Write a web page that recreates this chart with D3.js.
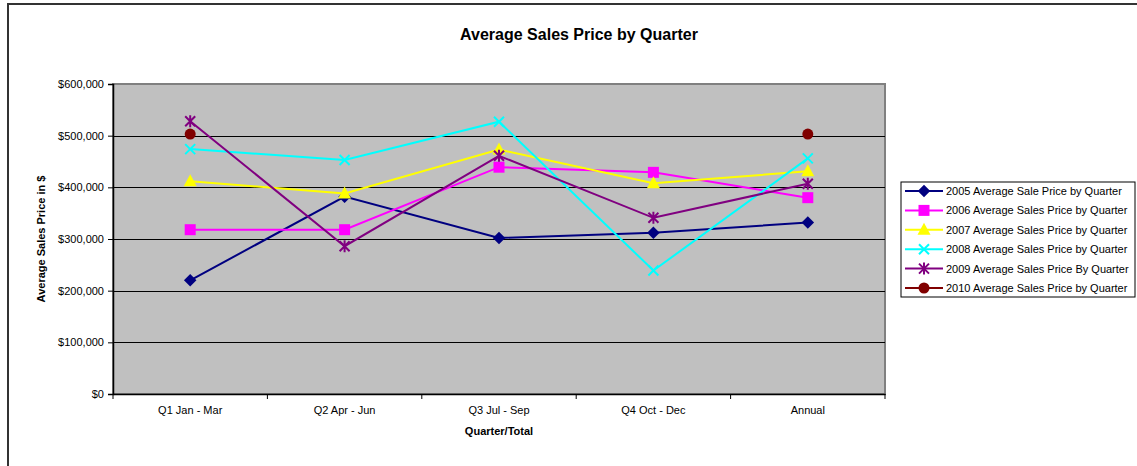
<!DOCTYPE html>
<html>
<head>
<meta charset="utf-8">
<script src="https://cdn.jsdelivr.net/npm/d3@7/dist/d3.min.js"></script>
<style>
  body { margin: 0; background: #fff; }
  svg { display: block; font-family: Arial, "Liberation Sans", sans-serif; }
</style>
</head>
<body>
<div id="chart"></div>
<script>
const categories = ['Q1 Jan - Mar', 'Q2 Apr - Jun', 'Q3 Jul - Sep', 'Q4 Oct - Dec', 'Annual'];
const yTicks = [0, 100000, 200000, 300000, 400000, 500000, 600000];

const sales2005 = [220000, 382000, 302000, 312000, 332000];
const sales2006 = [318000, 318000, 439000, 429000, 380000];
const sales2007 = [412000, 388000, 473000, 408000, 431000];
const sales2008 = [474000, 453000, 527000, 239000, 456000];
const sales2009 = [528000, 286000, 461000, 341000, 407000];
const sales2010 = [503000, null, null, null, 503000];

const seriesNames = [
  '2005 Average Sale Price by Quarter',
  '2006 Average Sales Price by Quarter',
  '2007 Average Sales Price by Quarter',
  '2008 Average Sales Price by Quarter',
  '2009 Average Sales Price By Quarter',
  '2010 Average Sales Price by Quarter'
];
const seriesColors = ['#000080', '#ff00ff', '#ffff00', '#00ffff', '#800080', '#800000'];
const seriesMarkers = ['diamond', 'square', 'triangle', 'x', 'star', 'circle'];
const seriesValues = [sales2005, sales2006, sales2007, sales2008, sales2009, sales2010];

const config = {
  totalWidth: 1137,
  totalHeight: 466,
  plot: {left: 113, right: 885, top: 84, bottom: 394},
  legend: {x: 901, y: 182, width: 234, height: 115, rowHeight: 19.4}
};

const series = seriesNames.map((name, i) => ({
  name,
  color: seriesColors[i],
  marker: seriesMarkers[i],
  values: seriesValues[i].map((v, j) => ({cat: categories[j], value: v}))
}));

const svg = d3.select('#chart').append('svg')
  .attr('width', config.totalWidth)
  .attr('height', config.totalHeight);

// chart frame (only left and top visible in the picture)
svg.append('path')
  .attr('d', `M8,${config.totalHeight} V4 H${config.totalWidth}`)
  .attr('fill', 'none')
  .attr('stroke', '#333')
  .attr('stroke-width', 2);

const xScale = d3.scaleBand()
  .domain(categories)
  .range([config.plot.left, config.plot.right]);

const yScale = d3.scaleLinear()
  .domain([0, 600000])
  .range([config.plot.bottom, config.plot.top]);

// plot area
svg.append('rect')
  .attr('x', config.plot.left)
  .attr('y', config.plot.top)
  .attr('width', config.plot.right - config.plot.left)
  .attr('height', config.plot.bottom - config.plot.top)
  .attr('fill', '#c0c0c0')
  .attr('stroke', '#808080')
  .attr('stroke-width', 2);

// gridlines
svg.append('g')
  .selectAll('line')
  .data(yTicks.filter(t => t > 0 && t < 600000))
  .enter()
  .append('line')
  .attr('x1', config.plot.left)
  .attr('x2', config.plot.right)
  .attr('y1', d => Math.round(yScale(d)) + 0.5)
  .attr('y2', d => Math.round(yScale(d)) + 0.5)
  .attr('stroke', '#000')
  .attr('stroke-width', 1);

// axes
const fmt = d => '$' + d3.format(',')(d);
const yAxis = svg.append('g')
  .attr('transform', `translate(${config.plot.left},0)`)
  .call(d3.axisLeft(yScale).tickValues(yTicks).tickFormat(fmt).tickSize(5).tickPadding(4));
yAxis.select('.domain').attr('stroke', '#000').attr('stroke-width', 1.5);
yAxis.selectAll('text').attr('font-size', 11).attr('fill', '#000')
  .attr('font-family', 'Arial, "Liberation Sans", sans-serif');

const xAxis = svg.append('g')
  .attr('transform', `translate(0,${config.plot.bottom})`)
  .call(d3.axisBottom(xScale).tickSize(0).tickPadding(12));
xAxis.select('.domain').attr('stroke', '#000').attr('stroke-width', 1.5);
xAxis.selectAll('text').attr('font-size', 11).attr('fill', '#000')
  .attr('font-family', 'Arial, "Liberation Sans", sans-serif');

// x ticks between categories
const boundaries = categories.map(c => xScale(c)).concat([config.plot.right]);
svg.append('g')
  .selectAll('line')
  .data(boundaries)
  .enter()
  .append('line')
  .attr('x1', d => d)
  .attr('x2', d => d)
  .attr('y1', config.plot.bottom)
  .attr('y2', config.plot.bottom + 5)
  .attr('stroke', '#000');

// titles
svg.append('text')
  .attr('x', 579)
  .attr('y', 40)
  .attr('text-anchor', 'middle')
  .attr('font-size', 16)
  .attr('font-weight', 'bold')
  .text('Average Sales Price by Quarter');

svg.append('text')
  .attr('x', 499)
  .attr('y', 435)
  .attr('text-anchor', 'middle')
  .attr('font-size', 11)
  .attr('font-weight', 'bold')
  .text('Quarter/Total');

svg.append('text')
  .attr('transform', 'translate(45,239) rotate(-90)')
  .attr('text-anchor', 'middle')
  .attr('font-size', 11)
  .attr('font-weight', 'bold')
  .text('Average Sales Price in $');

// markers
function drawMarker(g, type, color, x, y) {
  if (type === 'diamond') {
    g.append('path').attr('d', d3.symbol(d3.symbolDiamond2, 100)()).attr('transform', `translate(${x},${y})`)
      .attr('fill', color);
  } else if (type === 'square') {
    g.append('rect').attr('x', x - 5.5).attr('y', y - 5.5).attr('width', 11).attr('height', 11).attr('fill', color);
  } else if (type === 'triangle') {
    g.append('path').attr('d', `M${x},${y - 7}L${x + 6.5},${y + 5}L${x - 6.5},${y + 5}Z`).attr('fill', color);
  } else if (type === 'x') {
    g.append('path').attr('d', `M${x - 5},${y - 5}L${x + 5},${y + 5}M${x - 5},${y + 5}L${x + 5},${y - 5}`)
      .attr('stroke', color).attr('stroke-width', 2).attr('fill', 'none');
  } else if (type === 'star') {
    g.append('path').attr('d', `M${x - 5},${y - 5}L${x + 5},${y + 5}M${x - 5},${y + 5}L${x + 5},${y - 5}M${x},${y - 6}L${x},${y + 6}`)
      .attr('stroke', color).attr('stroke-width', 2).attr('fill', 'none');
  } else if (type === 'circle') {
    g.append('circle').attr('cx', x).attr('cy', y).attr('r', 5.5).attr('fill', color);
  }
}

const line = d3.line()
  .defined(d => d.value !== null)
  .x(d => xScale(d.cat) + xScale.bandwidth() / 2)
  .y(d => yScale(d.value));

const seriesLayer = svg.append('g');
series.forEach(s => {
  const g = seriesLayer.append('g');
  g.append('path')
    .datum(s.values)
    .attr('fill', 'none')
    .attr('stroke', s.color)
    .attr('stroke-width', 2)
    .attr('d', line);
  s.values.filter(d => d.value !== null).forEach(d => {
    drawMarker(g, s.marker, s.color, xScale(d.cat) + xScale.bandwidth() / 2, yScale(d.value));
  });
});

// legend
const lg = svg.append('g').attr('transform', `translate(${config.legend.x},${config.legend.y})`);
lg.append('rect')
  .attr('width', config.legend.width)
  .attr('height', config.legend.height)
  .attr('fill', '#fff')
  .attr('stroke', '#000')
  .attr('stroke-width', 1);
series.forEach((s, i) => {
  const y = 9 + i * config.legend.rowHeight;
  const row = lg.append('g');
  row.append('line')
    .attr('x1', 4).attr('x2', 42)
    .attr('y1', y).attr('y2', y)
    .attr('stroke', s.color).attr('stroke-width', 2);
  drawMarker(row, s.marker, s.color, 23, y);
  row.append('text')
    .attr('x', 45)
    .attr('y', y + 4)
    .attr('font-size', 11)
    .text(s.name);
});
</script>
</body>
</html>
